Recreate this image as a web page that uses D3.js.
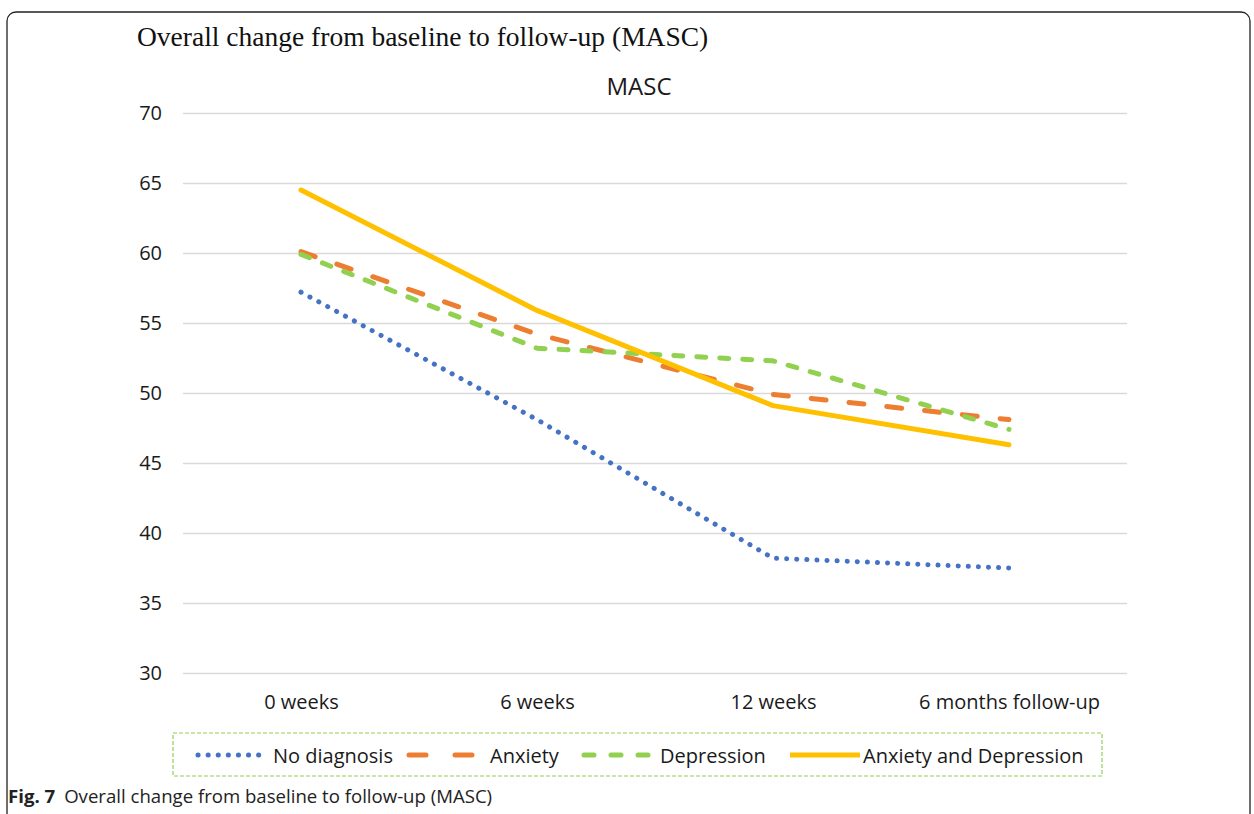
<!DOCTYPE html>
<html>
<head>
<meta charset="utf-8">
<script src="https://cdn.jsdelivr.net/npm/d3@7"></script>
<style>
  body { margin: 0; background: #fff; }
  svg { display: block; }
</style>
</head>
<body>
<div id="chart"></div>
<script>
const width = 1254
const height = 814

const categories = ["0 weeks", "6 weeks", "12 weeks", "6 months follow-up"]
const yTicks = [30, 35, 40, 45, 50, 55, 60, 65, 70]
const seriesNames = ["No diagnosis", "Anxiety", "Depression", "Anxiety and Depression"]
const noDiagnosis = [57.2, 48.1, 38.2, 37.5]
const anxiety = [60.1, 54.2, 49.9, 48.1]
const depression = [59.9, 53.2, 52.3, 47.4]
const anxietyDepression = [64.5, 55.9, 49.1, 46.3]

const seriesValues = [noDiagnosis, anxiety, depression, anxietyDepression]
const colors = ["#4472C4", "#ED7D31", "#92D050", "#FFC000"]
const dashes = ["0.1 10", "15 23", "9 14", null]

const plot = { left: 183, right: 1127, top: 113, bottom: 673 }

var xScale = d3.scalePoint(categories, [plot.left, plot.right]).padding(0.5)
var yScale = d3.scaleLinear([30, 70], [plot.bottom, plot.top])

var svg = d3.select("#chart").append("svg")
  .attr("width", width)
  .attr("height", height)

// outer frame of the figure
svg.append("rect")
  .attr("x", 7).attr("y", 12)
  .attr("width", 1243).attr("height", 900)
  .attr("rx", 9)
  .style("fill", "none")
  .style("stroke", "#222")
  .style("stroke-width", "1.3px")

svg.append("text")
  .attr("x", 137).attr("y", 46)
  .style("font-family", "'Liberation Serif', serif")
  .style("font-size", "27.5px")
  .style("fill", "#111")
  .text("Overall change from baseline to follow-up (MASC)")

svg.append("text")
  .attr("x", 639).attr("y", 95)
  .attr("text-anchor", "middle")
  .style("font-family", "'Open Sans', sans-serif")
  .style("font-size", "24px")
  .style("fill", "#1a1a1a")
  .text("MASC")

// Y axis with gridlines
var yAxis = d3.axisLeft(yScale).tickValues(yTicks).tickSize(-(plot.right - plot.left)).tickPadding(21)
var yg = svg.append("g")
  .attr("transform", `translate(${plot.left},0)`)
  .call(yAxis)
yg.select(".domain").remove()
yg.selectAll("line").style("stroke", "#d9d9d9").style("stroke-width", "1.5px")
yg.selectAll("text")
  .style("font-family", "'Open Sans', sans-serif")
  .style("font-size", "20px")
  .style("fill", "#1a1a1a")

// X axis
var xAxis = d3.axisBottom(xScale).tickSize(0).tickPadding(22)
var xg = svg.append("g")
  .attr("transform", `translate(0,${plot.bottom})`)
  .call(xAxis)
xg.select(".domain").remove()
xg.selectAll("text")
  .style("font-family", "'Open Sans', sans-serif")
  .style("font-size", "20px")
  .style("fill", "#1a1a1a")

// Lines
var line = d3.line()
  .x((d, i) => xScale(categories[i]))
  .y((d) => yScale(d))

svg.append("g")
  .selectAll("path")
  .data(seriesValues)
  .enter()
  .append("path")
  .attr("d", (d) => line(d))
  .style("fill", "none")
  .style("stroke", (d, i) => colors[i])
  .style("stroke-width", "5px")
  .style("stroke-linecap", "round")
  .style("stroke-linejoin", "round")
  .style("stroke-dasharray", (d, i) => dashes[i])

// Legend
var legend = svg.append("g")
legend.append("rect")
  .attr("x", 173).attr("y", 733)
  .attr("width", 929).attr("height", 43)
  .style("fill", "none")
  .style("stroke", "#92D050")
  .style("stroke-width", "1.2px")
  .style("stroke-dasharray", "4 2")

const legendPos = [[198, 260, 273], [409, 478, 490], [584, 650, 660], [790, 860, 863]]
var items = legend.selectAll("g.item")
  .data(seriesNames)
  .enter()
  .append("g")
  .attr("class", "item")
items.append("line")
  .attr("x1", (d, i) => legendPos[i][0])
  .attr("x2", (d, i) => legendPos[i][1])
  .attr("y1", 755).attr("y2", 755)
  .style("stroke", (d, i) => colors[i])
  .style("stroke-width", "5px")
  .style("stroke-linecap", (d, i) => i == 3 ? "butt" : "round")
  .style("stroke-dasharray", (d, i) => i == 0 ? "0.1 10" : i == 1 ? "17 29" : i == 2 ? "10 17" : null)
items.append("text")
  .attr("x", (d, i) => legendPos[i][2])
  .attr("y", 763)
  .style("font-family", "'Open Sans', sans-serif")
  .style("font-size", "20px")
  .style("fill", "#1a1a1a")
  .text((d) => d)

// Caption
var cap = svg.append("text")
  .attr("x", 8).attr("y", 803)
  .style("font-family", "'Open Sans', sans-serif")
  .style("font-size", "18.6px")
  .style("fill", "#222")
cap.append("tspan").style("font-weight", "bold").text("Fig. 7")
cap.append("tspan").attr("dx", 9).text("Overall change from baseline to follow-up (MASC)")
</script>
</body>
</html>
